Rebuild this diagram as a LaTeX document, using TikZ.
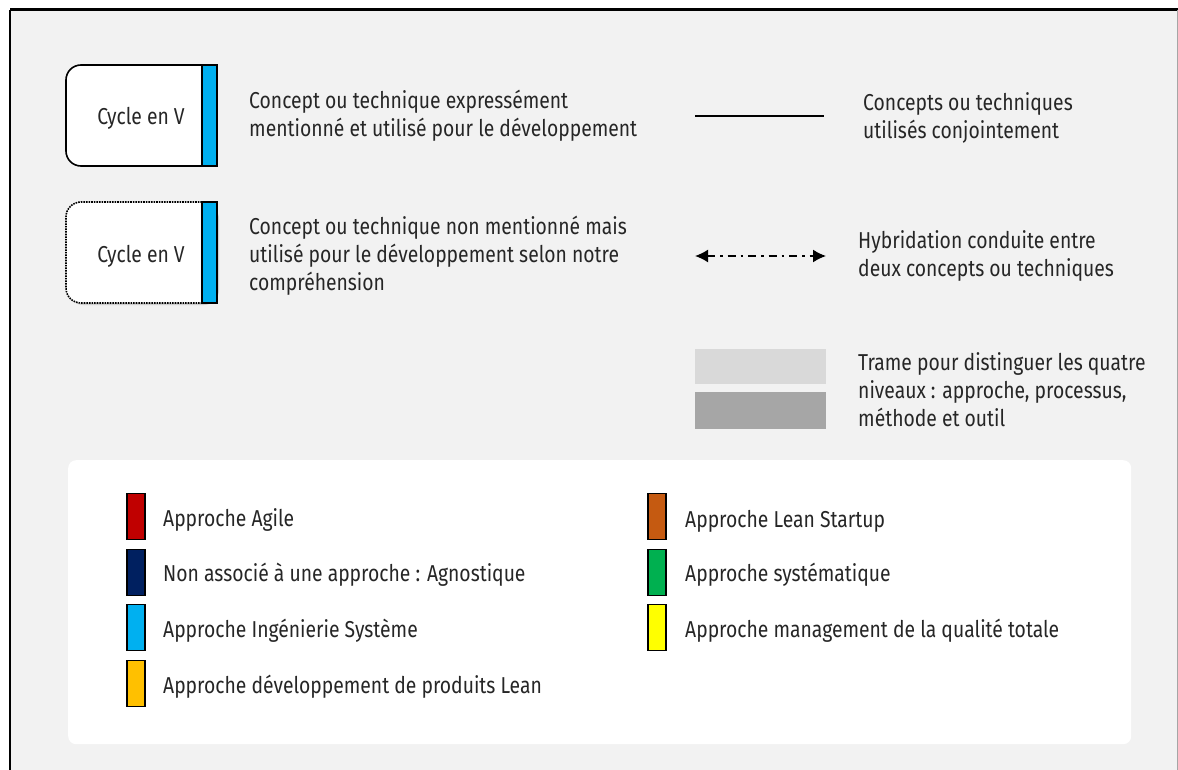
\documentclass[tikz,border=0pt]{standalone}
\usepackage{fontspec}
\setmainfont{Fira Sans}[FakeStretch=0.84]
\usetikzlibrary{shadows,arrows.meta}
\definecolor{bg}{HTML}{F2F2F2}
\definecolor{sysblue}{HTML}{00B0F0}
\definecolor{agred}{HTML}{C00000}
\definecolor{agnavy}{HTML}{002060}
\definecolor{leanorange}{HTML}{FFC000}
\definecolor{lsbrown}{HTML}{C55A11}
\definecolor{sysgreen}{HTML}{00B050}
\definecolor{tqmyellow}{HTML}{FFFF00}
\definecolor{txt}{HTML}{262626}
\tikzset{
  lbl/.style={font=\fontsize{23}{28}\selectfont, text=txt, align=left, anchor=west, inner sep=0pt},
  cyclebox/.style={fill=white, line width=1.6pt, minimum width=151pt, minimum height=101pt, rounded corners=15pt, inner sep=0pt},
  bar/.style={draw=black, line width=1.6pt, fill=sysblue, minimum width=15pt, minimum height=101pt, inner sep=0pt},
  swatch/.style={draw=black, line width=1.5pt, minimum width=18pt, minimum height=46pt, inner sep=0pt},
}
\begin{document}
\begin{tikzpicture}[x=1pt,y=-1pt]
\useasboundingbox (0,0) rectangle (1178,770);
% background frame
\fill[bg] (10,10) rectangle (1177,772);
\draw[black, line width=3pt] (10,10) -- (1178,10);
\draw[black, line width=2pt] (10,10) -- (10,772);
\draw[gray!70, line width=1pt] (1177,10) -- (1177,772);

% cycle boxes
\node[cyclebox, draw=black] (c1) at (141.5,115.5) {};
\node[bar] (b1) at (209.5,115.5) {};
\node[lbl, anchor=center] (t1) at (141,118) {Cycle en V};

\node[cyclebox, draw=black, densely dotted, drop shadow={opacity=0.3, shadow xshift=2pt, shadow yshift=-2pt}] (c2) at (141.5,252.5) {};
\node[bar] (b2) at (209.5,252.5) {};
\node[lbl, anchor=center] (t2) at (141,256) {Cycle en V};

\node[lbl] (d1) at (249,116) {Concept ou technique expressément\\mentionné et utilisé pour le développement};
\node[lbl] (d2) at (249,256) {Concept ou technique non mentionné mais\\utilisé pour le développement selon notre\\compréhension};

% line legend
\coordinate (l1a) at (695,116);
\coordinate (l1b) at (824,116);
\draw[black, line width=1.6pt] (l1a) -- (l1b);
\node[lbl] (d3) at (863,118) {Concepts ou techniques\\utilisés conjointement};

\coordinate (l2a) at (695,256);
\coordinate (l2b) at (826,256);
\draw[black, line width=1.6pt, dash pattern=on 8pt off 5pt on 2.5pt off 5pt, {Latex[length=13pt,width=13pt]}-{Latex[length=13pt,width=13pt]}] (l2a) -- (l2b);
\node[lbl] (d4) at (858,256) {Hybridation conduite entre\\deux concepts ou techniques};

\node[fill=black!15, minimum width=131pt, minimum height=35pt, inner sep=0pt, anchor=north west] (g1) at (695,349) {};
\node[fill=black!35, minimum width=131pt, minimum height=37pt, inner sep=0pt, anchor=north west] (g2) at (695,392) {};
\node[lbl] (d5) at (858,390) {Trame pour distinguer les quatre\\niveaux : approche, processus,\\méthode et outil};

% legend panel
\node[fill=white, rounded corners=8pt, minimum width=1063pt, minimum height=284pt, anchor=north west, inner sep=0pt] (panel) at (68,460) {};

\node[swatch, fill=agred] (s1) at (136,516.5) {};
\node[lbl] (e1) at (163,520) {Approche Agile};
\node[swatch, fill=agnavy] (s2) at (136,572.5) {};
\node[lbl] (e2) at (163,575) {Non associé à une approche : Agnostique};
\node[swatch, fill=sysblue] (s3) at (136,627.5) {};
\node[lbl] (e3) at (163,631) {Approche Ingénierie Système};
\node[swatch, fill=leanorange] (s4) at (136,683.5) {};
\node[lbl] (e4) at (163,687) {Approche développement de produits Lean};

\node[swatch, fill=lsbrown] (s5) at (657,516.5) {};
\node[lbl] (e5) at (685,521) {Approche Lean Startup};
\node[swatch, fill=sysgreen] (s6) at (657,572.5) {};
\node[lbl] (e6) at (685,575) {Approche systématique};
\node[swatch, fill=tqmyellow] (s7) at (657,627.5) {};
\node[lbl] (e7) at (685,631) {Approche management de la qualité totale};
\end{tikzpicture}
\end{document}
